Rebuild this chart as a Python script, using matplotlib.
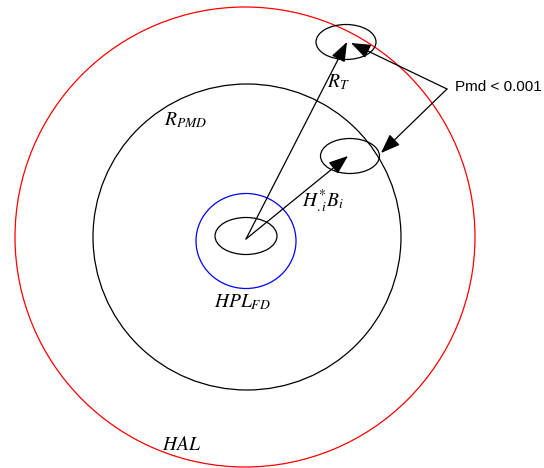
import numpy as np
import matplotlib.pyplot as plt
from matplotlib.patches import Ellipse, FancyArrowPatch

plt.rcParams['mathtext.fontset'] = 'stix'
plt.rcParams['font.family'] = 'Liberation Serif'

# circles / ellipses in picture pixels: (cx, cy, width, height, colour)
regions = [
    (245, 237, 460, 460, 'red'),      # HAL
    (247, 237, 308, 306, 'black'),    # R_PMD
    (246, 241, 100, 95, 'blue'),      # HPL_FD
    (246, 236, 62, 37, 'black'),      # fault-free error ellipse
    (346, 42, 60, 35, 'black'),       # shifted ellipse (R_T)
    (350, 156, 59, 35, 'black'),      # shifted ellipse (H*B)
]

origin = (246, 239)
vector_tips = [(347, 42), (348, 156)]

pmd_corner = (447, 89)
pmd_tips = [(351, 43), (381, 153)]

# x, baseline y, text
labels = [
    (327, 87, r'$R_T$'),
    (164, 125, r'$R_{PMD}$'),
    (302, 207, r'$H^{*}_{.i}B_i$'),
    (214, 307, r'$HPL_{FD}$'),
    (162, 450, r'$HAL$'),
]

fig = plt.figure(figsize=(5.44, 4.68), dpi=100)
ax = fig.add_axes([0, 0, 1, 1])
ax.set_xlim(0, 544)
ax.set_ylim(468, 0)
ax.axis('off')

for cx, cy, w, h, c in regions:
    ax.add_patch(Ellipse((cx, cy), w, h, fill=False, edgecolor=c, lw=0.9))

for tip in vector_tips:
    ax.add_patch(FancyArrowPatch(origin, tip, arrowstyle='-|>,head_length=1.2,head_width=0.45',
                                 mutation_scale=10, color='black', lw=0.9,
                                 shrinkA=0, shrinkB=0))

for tip in pmd_tips:
    ax.add_patch(FancyArrowPatch(pmd_corner, tip, arrowstyle='-|>,head_length=1.2,head_width=0.45',
                                 mutation_scale=10, color='black', lw=0.9,
                                 shrinkA=0, shrinkB=0))

for x, y, s in labels:
    ax.text(x, y, s, fontsize=14, ha='left', va='baseline')

ax.text(455, 87, 'Pmd < 0.001', fontsize=11, ha='left', va='center', family='Liberation Sans')

fig.savefig('out.png', dpi=100)
